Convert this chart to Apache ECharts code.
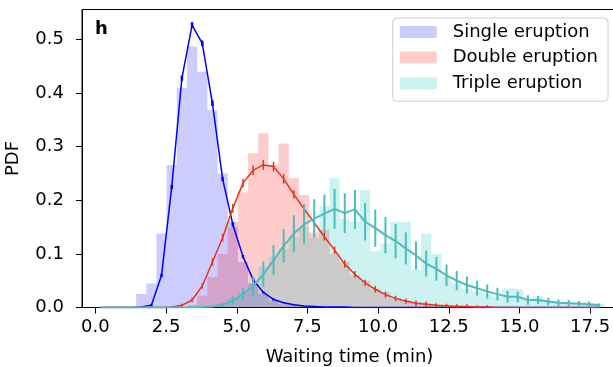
<!DOCTYPE html>
<html>
<head>
<meta charset="utf-8">
<script src="https://cdn.jsdelivr.net/npm/echarts@6/dist/echarts.min.js"></script>
<style>
  html, body { margin: 0; padding: 0; background: #fff; }
  #chart { width: 613px; height: 367px; }
</style>
</head>
<body>
<div id="chart"></div>
<script>
// Bin centres of the waiting-time histograms (min)
const waitCenters = [0.18, 0.54, 0.90, 1.26, 1.62, 1.98, 2.34, 2.70, 3.06, 3.42,
  3.78, 4.14, 4.50, 4.86, 5.22, 5.58, 5.94, 6.30, 6.66, 7.02,
  7.38, 7.74, 8.10, 8.46, 8.82, 9.18, 9.54, 9.90, 10.26, 10.62,
  10.98, 11.34, 11.70, 12.06, 12.42, 12.78, 13.14, 13.50, 13.86, 14.22,
  14.58, 14.94, 15.30, 15.66, 16.02, 16.38, 16.74, 17.10, 17.46, 17.82];
const BIN_WIDTH = 0.36;

// Observed densities
const singleHist = [0, 0, 0, 0.003, 0.025, 0.045, 0.138, 0.266, 0.41, 0.487,
  0.44, 0.368, 0.25, 0.16, 0.085, 0.045, 0.025, 0.012, 0.006, 0.003,
  0.002, 0, 0, 0, 0, 0, 0, 0, 0, 0,
  0, 0, 0, 0, 0, 0, 0, 0, 0, 0,
  0, 0, 0, 0, 0, 0, 0, 0, 0, 0];
const doubleHist = [0, 0, 0, 0, 0, 0, 0, 0, 0, 0.004,
  0.022, 0.057, 0.1, 0.15, 0.215, 0.288, 0.325, 0.266, 0.306, 0.241,
  0.21, 0.14, 0.145, 0.1, 0.085, 0.06, 0.05, 0.035, 0.028, 0.018,
  0.014, 0.01, 0.007, 0.005, 0.004, 0.003, 0.002, 0.001, 0, 0,
  0, 0, 0, 0, 0, 0, 0, 0, 0, 0];
const tripleHist = [0, 0, 0, 0, 0, 0, 0, 0, 0, 0,
  0.002, 0.004, 0.008, 0.018, 0.028, 0.045, 0.076, 0.095, 0.11, 0.132,
  0.15, 0.13, 0.19, 0.241, 0.165, 0.16, 0.219, 0.105, 0.12, 0.16,
  0.16, 0.07, 0.138, 0.1, 0.057, 0.045, 0.035, 0.03, 0.025, 0.02,
  0.036, 0.034, 0.014, 0.021, 0.011, 0.011, 0.01, 0.009, 0.008, 0.007];

// Model densities with their error bars (half-widths)
const singleFit = [0, 0, 0, 0, 0.001, 0.004, 0.06, 0.225, 0.428, 0.527,
  0.493, 0.381, 0.24, 0.155, 0.095, 0.052, 0.028, 0.015, 0.009, 0.005,
  0.003, 0.002, 0.001, 0.001, 0.001, 0, 0, 0, 0, 0,
  0, 0, 0, 0, 0, 0, 0, 0, 0, 0,
  0, 0, 0, 0, 0, 0, 0, 0, 0, 0];
const singleErr = [0, 0, 0, 0, 0.001, 0.002, 0.003, 0.004, 0.005, 0.005,
  0.005, 0.005, 0.004, 0.004, 0.003, 0.003, 0.002, 0.002, 0.001, 0.001,
  0, 0, 0, 0, 0, 0, 0, 0, 0, 0,
  0, 0, 0, 0, 0, 0, 0, 0, 0, 0,
  0, 0, 0, 0, 0, 0, 0, 0, 0, 0];
const doubleFit = [0, 0, 0, 0, 0, 0, 0, 0.001, 0.004, 0.014,
  0.04, 0.085, 0.13, 0.185, 0.232, 0.256, 0.266, 0.263, 0.24, 0.211,
  0.184, 0.158, 0.132, 0.107, 0.081, 0.062, 0.046, 0.034, 0.024, 0.017,
  0.012, 0.008, 0.006, 0.004, 0.003, 0.002, 0.002, 0.001, 0.001, 0,
  0, 0, 0, 0, 0, 0, 0, 0, 0, 0];
const doubleErr = [0, 0, 0, 0, 0, 0, 0, 0.002, 0.003, 0.004,
  0.005, 0.007, 0.007, 0.008, 0.008, 0.009, 0.009, 0.009, 0.009, 0.008,
  0.008, 0.008, 0.007, 0.007, 0.007, 0.006, 0.006, 0.006, 0.006, 0.005,
  0.005, 0.005, 0.005, 0.004, 0.004, 0.004, 0.004, 0.003, 0.003, 0,
  0, 0, 0, 0, 0, 0, 0, 0, 0, 0];
const tripleFit = [0, 0, 0, 0, 0, 0, 0, 0, 0, 0,
  0.001, 0.002, 0.005, 0.013, 0.025, 0.04, 0.062, 0.088, 0.115, 0.138,
  0.155, 0.166, 0.175, 0.184, 0.176, 0.183, 0.16, 0.148, 0.135, 0.124,
  0.11, 0.097, 0.082, 0.072, 0.06, 0.05, 0.042, 0.036, 0.03, 0.025,
  0.02, 0.02, 0.014, 0.014, 0.011, 0.009, 0.008, 0.007, 0.006, 0.004];
const tripleErr = [0, 0, 0, 0, 0, 0, 0, 0, 0, 0,
  0, 0.002, 0.004, 0.008, 0.012, 0.018, 0.024, 0.028, 0.031, 0.034,
  0.036, 0.036, 0.036, 0.037, 0.037, 0.036, 0.035, 0.035, 0.034, 0.032,
  0.03, 0.026, 0.024, 0.022, 0.02, 0.018, 0.016, 0.014, 0.013, 0.012,
  0.011, 0.01, 0.009, 0.008, 0.007, 0.006, 0.006, 0.005, 0.005, 0.004];

const xTicks = [0, 2.5, 5, 7.5, 10, 12.5, 15, 17.5];
const yTicks = [0, 0.1, 0.2, 0.3, 0.4, 0.5];
const seriesNames = ['Single eruption', 'Double eruption', 'Triple eruption'];

const FONT = 'DejaVu Sans';
const FONT_SIZE = 18;
const fills = ['rgba(0,0,255,0.2)', 'rgba(255,0,0,0.2)', 'rgba(0,191,191,0.2)'];
const strokes = ['#0000ff', '#e8321e', '#4cbcbc'];

// Histogram outline as a step curve over the bin edges
function stepData(values) {
  const pts = waitCenters.map((c, i) => [c - BIN_WIDTH / 2, values[i]]);
  pts.push([waitCenters[waitCenters.length - 1] + BIN_WIDTH / 2, 0]);
  return pts;
}

function histSeries(idx, values) {
  return {
    type: 'line', name: seriesNames[idx], data: stepData(values), step: 'end',
    symbol: 'none', silent: true, z: 1 + idx,
    lineStyle: { width: 0, opacity: 0 },
    areaStyle: { color: fills[idx], opacity: 1 }
  };
}

function fitSeries(idx, values, width) {
  return {
    type: 'line', name: 'fit' + idx, data: waitCenters.map((c, i) => [c, values[i]]),
    symbol: 'none', silent: true, z: 10 + idx,
    lineStyle: { color: strokes[idx], width: width }
  };
}

function errSeries(idx, values, errs, width) {
  return {
    type: 'custom', name: 'err' + idx, silent: true, z: 10 + idx, clip: true,
    data: waitCenters.map((c, i) => [c, values[i], errs[i]]),
    encode: { x: 0, y: 1 },
    renderItem: function (params, api) {
      const x = api.value(0), y = api.value(1), e = api.value(2);
      if (!(e > 0)) return null;
      const p1 = api.coord([x, y - e]);
      const p2 = api.coord([x, y + e]);
      return {
        type: 'line',
        shape: { x1: p1[0], y1: p1[1], x2: p2[0], y2: p2[1] },
        style: { stroke: strokes[idx], lineWidth: width }
      };
    }
  };
}

const chart = echarts.init(document.getElementById('chart'), null, { renderer: 'canvas' });
chart.setOption({
  animation: false,
  backgroundColor: '#ffffff',
  title: {
    text: 'h', left: 90, top: 15,
    textStyle: { fontFamily: FONT, fontSize: FONT_SIZE, fontWeight: 'bold', color: '#000' }
  },
  // the axes frame runs slightly past the right edge of the canvas
  grid: {
    left: 82, right: -4, top: 9.5, bottom: 59.5,
    outerBoundsMode: 'none', containLabel: false,
    show: true, borderColor: '#000', borderWidth: 1, backgroundColor: 'transparent'
  },
  legend: {
    orient: 'vertical', right: 5, top: 18,
    data: seriesNames.map((n, i) => ({ name: n, itemStyle: { color: fills[i] } })),
    icon: 'rect', itemWidth: 37, itemHeight: 12, itemGap: 7.6,
    selectedMode: false,
    textStyle: { fontFamily: FONT, fontSize: FONT_SIZE, color: '#000', padding: [0, 0, 0, 11] },
    backgroundColor: 'rgba(255,255,255,0.8)', borderColor: '#cccccc', borderWidth: 1,
    borderRadius: 4, padding: [5, 10, 9, 7]
  },
  xAxis: {
    type: 'value', min: -0.474, max: 18.45,
    name: 'Waiting time (min)', nameLocation: 'middle', nameGap: 41,
    nameTextStyle: { fontFamily: FONT, fontSize: FONT_SIZE, color: '#000' },
    axisLine: { show: true, onZero: false, lineStyle: { color: '#000', width: 1 } },
    axisTick: { show: true, length: 6, customValues: xTicks, lineStyle: { color: '#000' } },
    axisLabel: {
      customValues: xTicks, margin: 11, fontFamily: FONT, fontSize: FONT_SIZE, color: '#000',
      formatter: v => v.toFixed(1)
    },
    splitLine: { show: false }
  },
  yAxis: {
    type: 'value', min: 0, max: 0.556,
    name: 'PDF', nameLocation: 'middle', nameGap: 60, nameRotate: 90,
    nameTextStyle: { fontFamily: FONT, fontSize: FONT_SIZE, color: '#000' },
    axisLine: { show: true, onZero: false, lineStyle: { color: '#000', width: 1 } },
    axisTick: { show: true, length: 6, customValues: yTicks, lineStyle: { color: '#000' } },
    axisLabel: {
      customValues: yTicks, margin: 18, fontFamily: FONT, fontSize: FONT_SIZE, color: '#000',
      formatter: v => v.toFixed(1)
    },
    splitLine: { show: false }
  },
  series: [
    histSeries(0, singleHist),
    histSeries(1, doubleHist),
    histSeries(2, tripleHist),
    fitSeries(0, singleFit, 1.5),
    errSeries(0, singleFit, singleErr, 2.5),
    fitSeries(1, doubleFit, 1.5),
    errSeries(1, doubleFit, doubleErr, 1.5),
    fitSeries(2, tripleFit, 2),
    errSeries(2, tripleFit, tripleErr, 2)
  ]
});
</script>
</body>
</html>
